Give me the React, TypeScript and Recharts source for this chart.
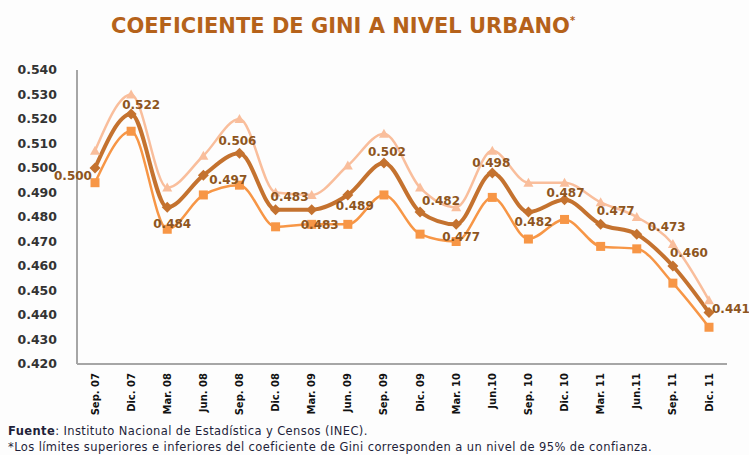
import React from "react";
import { LineChart, Line, XAxis, YAxis, LabelList } from "recharts";

const categories = [
  "Sep. 07", "Dic. 07", "Mar. 08", "Jun. 08", "Sep. 08", "Dic. 08",
  "Mar. 09", "Jun. 09", "Sep. 09", "Dic. 09", "Mar. 10", "Jun.10",
  "Sep. 10", "Dic. 10", "Mar. 11", "Jun.11", "Sep. 11", "Dic. 11",
];

const gini = [
  0.5, 0.522, 0.484, 0.497, 0.506, 0.483, 0.483, 0.489, 0.502,
  0.482, 0.477, 0.498, 0.482, 0.487, 0.477, 0.473, 0.46, 0.441,
];

const upperLimit = [
  0.507, 0.53, 0.492, 0.505, 0.52, 0.49, 0.489, 0.501, 0.514,
  0.492, 0.484, 0.507, 0.494, 0.494, 0.486, 0.48, 0.469, 0.446,
];

const lowerLimit = [
  0.494, 0.515, 0.475, 0.489, 0.493, 0.476, 0.477, 0.477, 0.489,
  0.473, 0.47, 0.488, 0.471, 0.479, 0.468, 0.467, 0.453, 0.435,
];

const yTicks = [0.42, 0.43, 0.44, 0.45, 0.46, 0.47, 0.48, 0.49, 0.5, 0.51, 0.52, 0.53, 0.54];

// where each value label sits relative to its point (dx, dy)
const labelOffsets = [
  [-22, 8], [10, -9], [5, 17], [25, 5], [-2, -12], [14, -13],
  [8, 15], [7, 11], [3, -11], [21, -11], [5, 13], [-1, -10],
  [5, 10], [1, -7], [15, -13], [30, -7], [16, -13], [22, -4],
];

const data = categories.map((name, i) => ({
  name,
  gini: gini[i],
  upper: upperLimit[i],
  lower: lowerLimit[i],
}));

const FONT = "'DejaVu Sans', Verdana, sans-serif";

const Triangle = (props: any) => {
  const { cx, cy, index } = props;
  return (
    <polygon
      key={`t-${index}`}
      points={`${cx},${cy - 5} ${cx + 5},${cy + 4} ${cx - 5},${cy + 4}`}
      fill="#F9BE9C"
    />
  );
};

const Diamond = (props: any) => {
  const { cx, cy, index } = props;
  return (
    <polygon
      key={`d-${index}`}
      points={`${cx},${cy - 5.5} ${cx + 5.5},${cy} ${cx},${cy + 5.5} ${cx - 5.5},${cy}`}
      fill="#C4722F"
    />
  );
};

const Square = (props: any) => {
  const { cx, cy, index } = props;
  return <rect key={`s-${index}`} x={cx - 4.5} y={cy - 4.5} width={9} height={9} fill="#F79646" />;
};

const XTick = (props: any) => {
  const { x, y, payload } = props;
  return (
    <text
      x={x}
      y={y}
      transform={`rotate(-90 ${x} ${y})`}
      textAnchor="end"
      dy="0.35em"
      fontFamily={FONT}
      fontWeight="bold"
      fontSize={10}
      fill="#111"
    >
      {payload.value}
    </text>
  );
};

const ValueLabel = (props: any) => {
  const { x, y, index, value } = props;
  const [dx, dy] = labelOffsets[index];
  return (
    <text
      x={x + dx}
      y={y + dy}
      textAnchor="middle"
      dominantBaseline="central"
      fontFamily={FONT}
      fontWeight="bold"
      fontSize={12}
      fill="#8E5520"
    >
      {Number(value).toFixed(3)}
    </text>
  );
};

export default function App() {
  return (
    <div
      style={{
        position: "absolute",
        left: 0,
        top: 0,
        width: 749,
        height: 455,
        background: "#FDFDFD",
        overflow: "hidden",
      }}
    >
      <LineChart
        width={749}
        height={420}
        data={data}
        margin={{ top: 70, right: 22, left: 8, bottom: 0 }}
        style={{ position: "absolute", left: 0, top: 0 }}
      >
        <XAxis
          dataKey="name"
          height={56}
          interval={0}
          padding={{ left: 18, right: 18 }}
          axisLine={{ stroke: "#A6A6A6", strokeWidth: 2 }}
          tickLine={false}
          tickSize={0}
          tickMargin={9}
          tick={<XTick />}
        />
        <YAxis
          width={69}
          domain={[0.42, 0.54]}
          ticks={yTicks}
          interval={0}
          axisLine={{ stroke: "#A6A6A6", strokeWidth: 2 }}
          tickLine={false}
          tickSize={0}
          tickMargin={20}
          tickFormatter={(v: number) => v.toFixed(3)}
          tick={{ fontFamily: FONT, fontWeight: "bold", fontSize: 12.5, fill: "#333" }}
        />
        <Line
          type="monotone"
          dataKey="upper"
          stroke="#F9BE9C"
          strokeWidth={2.5}
          dot={<Triangle />}
          activeDot={false}
          isAnimationActive={false}
        />
        <Line
          type="monotone"
          dataKey="lower"
          stroke="#F79646"
          strokeWidth={2.5}
          dot={<Square />}
          activeDot={false}
          isAnimationActive={false}
        />
        <Line
          type="monotone"
          dataKey="gini"
          stroke="#C4722F"
          strokeWidth={4}
          dot={<Diamond />}
          activeDot={false}
          isAnimationActive={false}
        >
          <LabelList dataKey="gini" content={<ValueLabel />} />
        </Line>
      </LineChart>

      <svg
        width={749}
        height={455}
        style={{ position: "absolute", left: 0, top: 0, pointerEvents: "none" }}
      >
        <text x={111} y={33} fontFamily={FONT} fontWeight="bold" fontSize={21} fill="#B5621A">
          COEFICIENTE DE GINI A NIVEL URBANO
          <tspan dy={-9} fontSize={10}>*</tspan>
        </text>
        <text x={8} y={435} fontFamily={FONT} fontSize={11.5} letterSpacing={0.4} fill="#1F1F3A">
          <tspan fontWeight="bold">Fuente</tspan>: Instituto Nacional de Estadística y Censos (INEC).
        </text>
        <text x={8} y={451} fontFamily={FONT} fontSize={11.5} letterSpacing={0.4} fill="#1F1F3A">
          *Los límites superiores e inferiores del coeficiente de Gini corresponden a un nivel de 95% de confianza.
        </text>
      </svg>
    </div>
  );
}
